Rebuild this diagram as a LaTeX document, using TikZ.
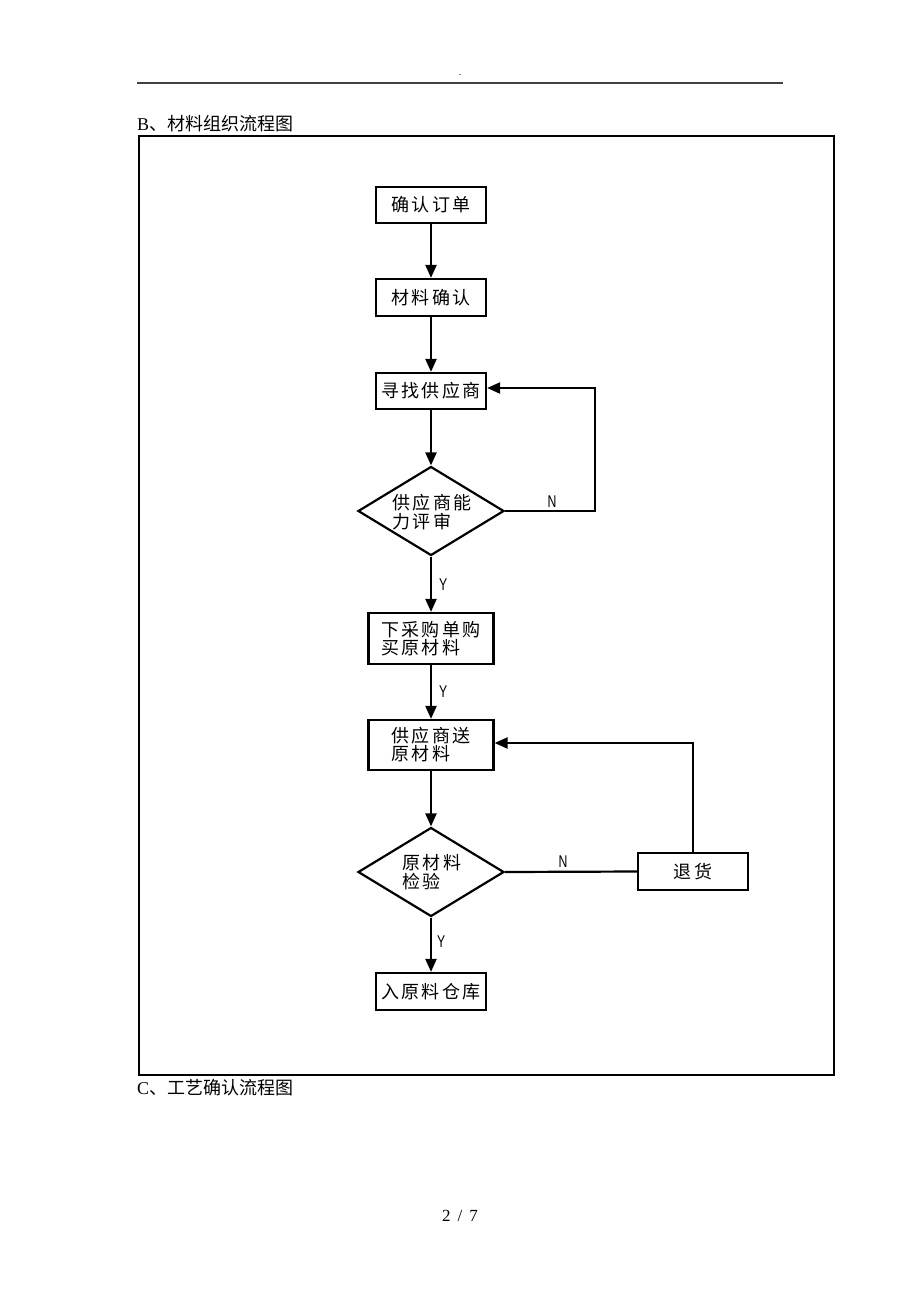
\documentclass[tikz,border=0pt]{standalone}
\usepackage{fontspec}
\usepackage{graphicx}
\setmainfont{Liberation Serif}
\newfontfamily\cjk[LetterSpace=12]{Noto Sans CJK SC}
\newfontfamily\cjkhead{Noto Sans CJK SC}
\newfontfamily\yn{Liberation Sans}
\newcommand{\narrow}[1]{\scalebox{0.72}[1]{#1}}
\usetikzlibrary{shapes.geometric,arrows.meta}
\tikzset{
  box/.style={draw, line width=2.2pt, inner sep=0pt, align=left, font=\cjk\fontsize{18}{18}\selectfont},
  dia/.style={draw, diamond, line width=2.2pt, inner sep=0pt, minimum width=146pt, minimum height=89pt},
  diatext/.style={align=left, inner sep=0pt, font=\cjk\fontsize{18}{19}\selectfont},
  flow/.style={line width=2.2pt, -{Triangle[width=11pt,length=13pt]}},
  plain/.style={line width=2.2pt},
  lab/.style={font=\yn\fontsize{17}{17}\selectfont, inner sep=0pt},
  head/.style={anchor=west, inner sep=0pt, font=\fontsize{18}{18}\selectfont}
}
\begin{document}
\begin{tikzpicture}[x=1pt,y=-1pt]
\useasboundingbox (0,0) rectangle (920,1302);
% page header
\draw[line width=1.5pt, black!75] (137,83) coordinate (hl) -- (783,83) coordinate (hr);
\node[inner sep=0pt, font=\fontsize{10}{10}\selectfont] (dot) at (460,75) {.};
\node[head] (tb) at (137,124) {B{\cjkhead 、材料组织流程图}};
\node[head] (tc) at (137,1088) {C{\cjkhead 、工艺确认流程图}};
\node[inner sep=0pt, font=\fontsize{17}{17}\selectfont] (pg) at (460,1216) {2 \,/\, 7};
% frame
\draw[line width=2.2pt] (139,136) coordinate (f1) rectangle (834,1075) coordinate (f2);
% nodes
\node[box, minimum width=110pt, minimum height=36pt] (b1) at (431,205) {确认订单};
\node[box, minimum width=110pt, minimum height=37pt] (b2) at (431,297.5) {材料确认};
\node[box, minimum width=110pt, minimum height=36pt] (b3) at (431,391) {寻找供应商};
\node[dia] (d1) at (431,511) {};
\node[diatext] (d1t) at (432,512) {供应商能\\力评审};
\node[box, minimum width=125pt, minimum height=51pt] (b4) at (431,638.5) {下采购单购\\买原材料};
\node[box, minimum width=125pt, minimum height=50pt] (b5) at (431,745) {供应商送\\原材料};
\node[dia] (d2) at (431,872) {};
\node[diatext] (d2t) at (432,872) {原材料\\检验};
\node[box, minimum width=110pt, minimum height=37pt] (rt) at (693,871.5) {退货};
\node[box, minimum width=110pt, minimum height=37pt] (b6) at (431,991.5) {入原料仓库};
% connectors
\draw[flow] (b1) -- (b2);
\draw[flow] (b2) -- (b3);
\draw[flow] (b3) -- (d1);
\draw[flow] (d1) -- node[lab, right=7pt] (y1) {\narrow{Y}} (b4);
\draw[flow] (b4) -- node[lab, right=7pt] (y2) {\narrow{Y}} (b5);
\draw[flow] (b5) -- (d2);
\draw[flow] (d2) -- node[lab, right=5pt, pos=0.45] (y3) {\narrow{Y}} (b6);
\coordinate (c1) at (595,511);
\coordinate (c2) at (595,388);
\draw[flow] (d1.east) -- (c1) -- (c2) -- (c2 -| b3.east);
\node[lab] (n1) at (552,502) {\narrow{N}};
\draw[plain] (d2.east) -- (rt.west);
\node[lab] (n2) at (563,862) {\narrow{N}};
\coordinate (c3) at (693,743);
\draw[flow] (rt.north) -- (c3) -- (c3 -| b5.east);
\end{tikzpicture}
\end{document}
